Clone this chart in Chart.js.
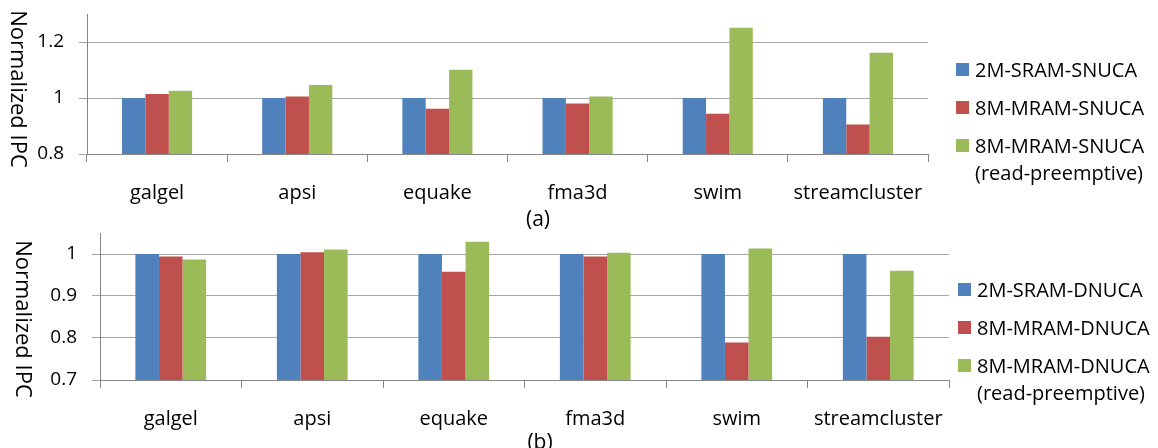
<!DOCTYPE html>
<html>
<head>
<meta charset="utf-8">
<script src="https://cdn.jsdelivr.net/npm/chart.js@4"></script>
<style>
  html, body { margin: 0; padding: 0; background: #fff; }
  body { width: 1158px; height: 448px; overflow: hidden; position: relative; font-family: "Open Sans", sans-serif; color: #000; }
  .panel { position: absolute; left: 0; width: 1158px; height: 224px; }
  .legend { position: absolute; font-size: 20px; }
  .legend .item { display: flex; align-items: flex-start; margin-bottom: 11px; }
  .legend .box { width: 13px; height: 13px; margin-top: 7px; margin-right: 6px; flex: none; }
  .legend .txt { line-height: 27px; white-space: nowrap; }
  .caption { position: absolute; font-size: 21px; line-height: 22px; transform: translate(-50%, -50%); }
</style>
</head>
<body>
<div class="panel" style="top:0"><canvas id="chart-a"></canvas></div>
<div class="panel" style="top:224px"><canvas id="chart-b"></canvas></div>
<div class="legend" id="legend-a" style="left:956px;top:56px"></div>
<div class="legend" id="legend-b" style="left:958px;top:276px"></div>
<div class="caption" style="left:538px;top:218px">(a)</div>
<div class="caption" style="left:540px;top:441px">(b)</div>
<script>
var categories = ['galgel', 'apsi', 'equake', 'fma3d', 'swim', 'streamcluster'];

// (a) static NUCA
var snucaNames = ['2M-SRAM-SNUCA', '8M-MRAM-SNUCA', '8M-MRAM-SNUCA (read-preemptive)'];
var snucaSram = [1, 1, 1, 1, 1, 1];
var snucaMram = [1.014, 1.005, 0.962, 0.980, 0.944, 0.905];
var snucaMramRp = [1.026, 1.046, 1.101, 1.005, 1.251, 1.162];
var snucaTicks = [0.8, 1, 1.2];
var snucaTickLabels = ['0.8', '1', '1.2'];

// (b) dynamic NUCA
var dnucaNames = ['2M-SRAM-DNUCA', '8M-MRAM-DNUCA', '8M-MRAM-DNUCA (read-preemptive)'];
var dnucaSram = [1, 1, 1, 1, 1, 1];
var dnucaMram = [0.994, 1.004, 0.958, 0.994, 0.789, 0.803];
var dnucaMramRp = [0.987, 1.011, 1.029, 1.003, 1.013, 0.960];
var dnucaTicks = [0.7, 0.8, 0.9, 1];
var dnucaTickLabels = ['0.7', '0.8', '0.9', '1'];

var colors = ['#4f81bd', '#c0504d', '#9bbb59'];
var axisColor = '#868686';
var gridColor = '#a6a6a6';
var fontFamily = '"Open Sans", sans-serif';

// vertical axis title, reads top to bottom
var yTitle = {
	id: 'yTitle',
	afterDraw: function (chart, args, opts) {
		var ctx = chart.ctx;
		ctx.save();
		ctx.translate(opts.x, opts.y);
		ctx.rotate(Math.PI / 2);
		ctx.font = '22px ' + fontFamily;
		ctx.fillStyle = '#000';
		ctx.textAlign = 'center';
		ctx.textBaseline = 'middle';
		ctx.fillText(opts.text, 0, 0);
		ctx.restore();
	}
};

function makeChart(id, names, series, yMin, yMax, ticks, tickLabels, box) {
	return new Chart(document.getElementById(id), {
		type: 'bar',
		data: {
			labels: categories,
			datasets: series.map(function (values, i) {
				return {
					label: names[i],
					data: values,
					backgroundColor: colors[i],
					borderWidth: 0,
					categoryPercentage: 0.5,
					barPercentage: 1
				};
			})
		},
		options: {
			responsive: true,
			maintainAspectRatio: false,
			animation: false,
			layout: { padding: { left: 0, top: box.top, right: 1158 - box.right, bottom: 0 } },
			plugins: {
				legend: { display: false },
				tooltip: { enabled: false },
				yTitle: { text: 'Normalized IPC', x: box.titleX, y: box.titleY }
			},
			scales: {
				x: {
					grid: { offset: true, drawOnChartArea: false, tickLength: 8, color: axisColor },
					border: { color: axisColor },
					ticks: { font: { family: fontFamily, size: 20 }, color: '#000', padding: 19, maxRotation: 0, autoSkip: false },
					afterFit: function (s) { s.height = 224 - box.bottom; s.paddingLeft = 0; s.paddingRight = 0; }
				},
				y: {
					min: yMin,
					max: yMax,
					afterBuildTicks: function (s) {
						s.ticks = ticks.map(function (v) { return { value: v }; });
					},
					grid: { color: gridColor, tickLength: 8 },
					border: { color: axisColor },
					ticks: {
						font: { family: fontFamily, size: 19 },
						color: '#000',
						padding: 15,
						callback: function (v, i) { return tickLabels[i]; }
					},
					afterFit: function (s) { s.width = box.left; s.paddingTop = 0; s.paddingBottom = 0; }
				}
			}
		},
		plugins: [yTitle]
	});
}

function makeLegend(id, names) {
	var el = document.getElementById(id);
	names.forEach(function (name, i) {
		var item = document.createElement('div');
		item.className = 'item';
		var box = document.createElement('span');
		box.className = 'box';
		box.style.background = colors[i];
		var txt = document.createElement('span');
		txt.className = 'txt';
		name.split(' (').forEach(function (part, j) {
			if (j > 0) {
				txt.appendChild(document.createElement('br'));
				part = '(' + part;
			}
			txt.appendChild(document.createTextNode(part));
		});
		item.appendChild(box);
		item.appendChild(txt);
		el.appendChild(item);
	});
}

makeChart('chart-a', snucaNames, [snucaSram, snucaMram, snucaMramRp], 0.8, 1.3, snucaTicks, snucaTickLabels,
	{ left: 87, right: 928, top: 14, bottom: 154, titleX: 17, titleY: 89 });
makeChart('chart-b', dnucaNames, [dnucaSram, dnucaMram, dnucaMramRp], 0.7, 1.05, dnucaTicks, dnucaTickLabels,
	{ left: 100, right: 949, top: 9, bottom: 156, titleX: 22, titleY: 95 });

makeLegend('legend-a', snucaNames);
makeLegend('legend-b', dnucaNames);
</script>
</body>
</html>
